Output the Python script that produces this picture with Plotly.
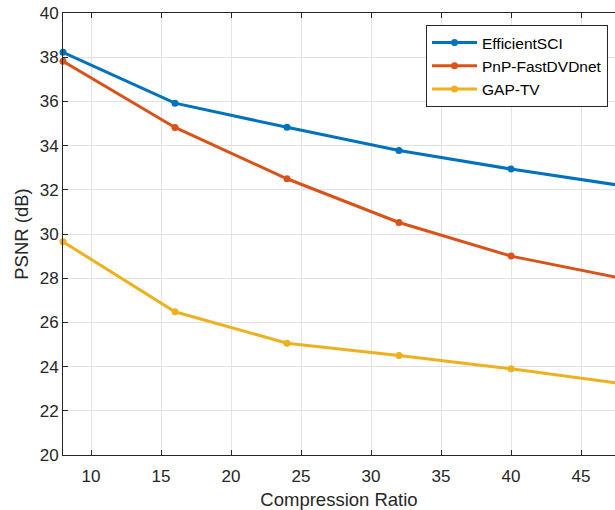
import plotly.graph_objects as go

cr = [8, 16, 24, 32, 40, 48]
efficientsci = [38.22, 35.92, 34.83, 33.78, 32.94, 32.18]
pnp_fastdvdnet = [37.82, 34.82, 32.50, 30.52, 29.00, 27.98]
gap_tv = [29.65, 26.48, 25.06, 24.50, 23.90, 23.22]

names = ["EfficientSCI", "PnP-FastDVDnet", "GAP-TV"]
colors = ["#0072BD", "#D95319", "#EDB120"]
series = [efficientsci, pnp_fastdvdnet, gap_tv]

x_ticks = [10, 15, 20, 25, 30, 35, 40, 45]
y_ticks = [20, 22, 24, 26, 28, 30, 32, 34, 36, 38, 40]

fig = go.Figure()
for n, c, s in zip(names, colors, series):
    fig.add_trace(go.Scatter(
        x=cr, y=s, name=n, mode="lines+markers",
        line=dict(color=c, width=3),
        marker=dict(color=c, size=7),
        cliponaxis=False,
    ))

W, H = 615, 510
left, top, bottom = 63, 13, 455
px_per_unit = 14.0
plot_w = W - left
xmax = 8 + plot_w / px_per_unit

axis_col = "#262626"
grid_col = "#e3e3e3"
font_fam = "Liberation Sans, Arial, sans-serif"

fig.update_layout(
    width=W, height=H,
    margin=dict(l=left, r=0, t=top, b=H - bottom, autoexpand=False),
    paper_bgcolor="white", plot_bgcolor="white",
    font=dict(family=font_fam, color=axis_col, size=14),
    showlegend=True,
    legend=dict(
        x=(426 - 63) / plot_w, y=(455 - 25) / 442, xanchor="left", yanchor="top",
        bgcolor="white", bordercolor=axis_col, borderwidth=1,
        font=dict(size=15.5, color="black"),
        tracegroupgap=0, itemwidth=45,
    ),
    xaxis=dict(
        range=[8, xmax], tickvals=x_ticks, ticks="inside", ticklen=5,
        tickcolor=axis_col, showline=True, linecolor=axis_col, linewidth=1,
        mirror="ticks", showgrid=True, gridcolor=grid_col, zeroline=False,
        automargin=False, ticklabelstandoff=6,
        title=dict(text="Compression Ratio", font=dict(size=18.5), standoff=10),
        tickfont=dict(size=17),
    ),
    yaxis=dict(
        range=[20, 40], tickvals=y_ticks, ticks="inside", ticklen=5,
        tickcolor=axis_col, showline=True, linecolor=axis_col, linewidth=1,
        mirror=False, showgrid=True, gridcolor=grid_col, zeroline=False,
        automargin=False,
        title=dict(text="PSNR (dB)", font=dict(size=18.5), standoff=6),
        tickfont=dict(size=17),
    ),
)

fig.write_html(
    "out.html",
    config={"displayModeBar": False},
    post_script="document.body.style.margin='0';document.body.style.overflow='hidden';",
)
